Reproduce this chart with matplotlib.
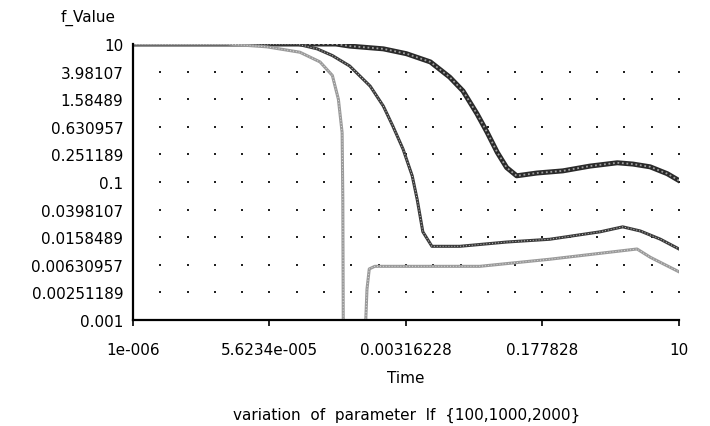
import numpy as np
import matplotlib
matplotlib.use("Agg")
from matplotlib import pyplot as plt
from matplotlib.ticker import FixedLocator, NullLocator

# f_Value over Time, three runs of parameter lf
t_lf100 = [1e-6, 4.0e-4, 6.0e-4, 1.62e-3, 3.2e-3, 6.5e-3, 1.15e-2, 1.7e-2, 2.57e-2,
           3.47e-2, 4.68e-2, 6.17e-2, 8.3e-2, 0.151, 0.324, 0.72, 1.62, 2.57, 4.27, 7.08, 10]
f_lf100 = [10, 10, 9.33, 8.51, 7.24, 5.5, 3.31, 2.09, 0.977,
           0.525, 0.269, 0.162, 0.123, 0.135, 0.145, 0.17, 0.19, 0.182, 0.166, 0.132, 0.105]

t_lf1000 = [1e-6, 1.26e-4, 2.3e-4, 3.6e-4, 6.0e-4, 1.1e-3, 1.62e-3, 2.14e-3, 2.9e-3, 3.8e-3,
            4.4e-3, 4.8e-3, 5.2e-3, 6.8e-3, 1.55e-2, 6.2e-2, 0.22, 0.98, 1.9, 3.2, 5.8, 10]
f_lf1000 = [10, 10, 8.5, 6.8, 4.8, 2.45, 1.26, 0.65, 0.30, 0.123,
            0.056, 0.032, 0.019, 0.0117, 0.0117, 0.0135, 0.0148, 0.019, 0.0224, 0.0195, 0.0148, 0.0107]

t_lf2000 = [1e-6, 1.6e-5, 5.2e-5, 1.38e-4, 2.5e-4, 3.6e-4, 4.3e-4, 4.8e-4, 4.9e-4, 5.0e-4,
            8.9e-4, 1.0e-3, 1.07e-3, 1.26e-3, 2.8e-2, 0.22, 2.9, 4.3, 10]
f_lf2000 = [10, 10, 9.1, 7.6, 5.5, 3.5, 1.58, 0.52, 0.056, 1e-4,
            1e-4, 0.0028, 0.0055, 0.006, 0.006, 0.0076, 0.0107, 0.0081, 0.005]

x_ticks = [1e-6, 5.6234e-5, 0.00316228, 0.177828, 10]
x_labels = ["1e-006", "5.6234e-005", "0.00316228", "0.177828", "10"]
y_ticks = [10, 3.98107, 1.58489, 0.630957, 0.251189, 0.1, 0.0398107,
           0.0158489, 0.00630957, 0.00251189, 0.001]
y_labels = ["10", "3.98107", "1.58489", "0.630957", "0.251189", "0.1", "0.0398107",
            "0.0158489", "0.00630957", "0.00251189", "0.001"]

plt.rcParams["font.family"] = ["DejaVu Sans"]
plt.rcParams["font.size"] = 11

fig = plt.figure(figsize=(7.1, 4.27), dpi=100)
ax = fig.add_axes([0.1873, 0.2482, 0.769, 0.6464])
ax.set_xscale("log")
ax.set_yscale("log")
ax.set_xlim(1e-6, 10)
ax.set_ylim(0.001, 10)

# dotted grid: one dot per 0.35 decade in x, per y tick in y
gx = 10 ** (-6 + 0.35 * np.arange(1, 21))
gy = np.array(y_ticks[1:-1])
GX, GY = np.meshgrid(gx, gy)
ax.scatter(GX.ravel(), GY.ravel(), s=3, c="#222222", marker="s", linewidths=0, zorder=1)

ax.plot(t_lf100, f_lf100, color="#2a2a2a", lw=3.6, zorder=2)
ax.plot(t_lf100, f_lf100, color="#a0a0a0", lw=1.3, ls=(0, (1, 1.5)), zorder=2)
ax.plot(t_lf1000, f_lf1000, color="#3a3a3a", lw=2.2, zorder=3)
ax.plot(t_lf1000, f_lf1000, color="#c8c8c8", lw=0.7, ls=(0, (1, 2)), zorder=3)
ax.plot(t_lf2000, f_lf2000, color="#9a9a9a", lw=2.2, zorder=4)
ax.plot(t_lf2000, f_lf2000, color="#dddddd", lw=0.7, ls=(0, (1, 2)), zorder=4)

for s in ["top", "right"]:
    ax.spines[s].set_visible(False)
ax.spines["left"].set_linewidth(1.6)
ax.spines["bottom"].set_linewidth(1.6)
ax.spines["left"].set_zorder(5)
ax.spines["bottom"].set_zorder(5)

ax.xaxis.set_major_locator(FixedLocator(x_ticks))
ax.xaxis.set_minor_locator(NullLocator())
ax.set_xticklabels(x_labels)
ax.yaxis.set_major_locator(FixedLocator(y_ticks))
ax.yaxis.set_minor_locator(NullLocator())
ax.set_yticklabels(y_labels)
ax.tick_params(axis="x", direction="out", length=4, width=1.2, pad=12)
ax.tick_params(axis="y", length=0, pad=7)

ax.set_xlabel("Time", labelpad=9)
fig.text(0.124, 0.958, "f_Value", ha="center", va="center", fontsize=11)
fig.text(0.573, 0.028, "variation  of  parameter  lf  {100,1000,2000}",
         ha="center", va="center", fontsize=11)

fig.savefig("out.png", dpi=100)
